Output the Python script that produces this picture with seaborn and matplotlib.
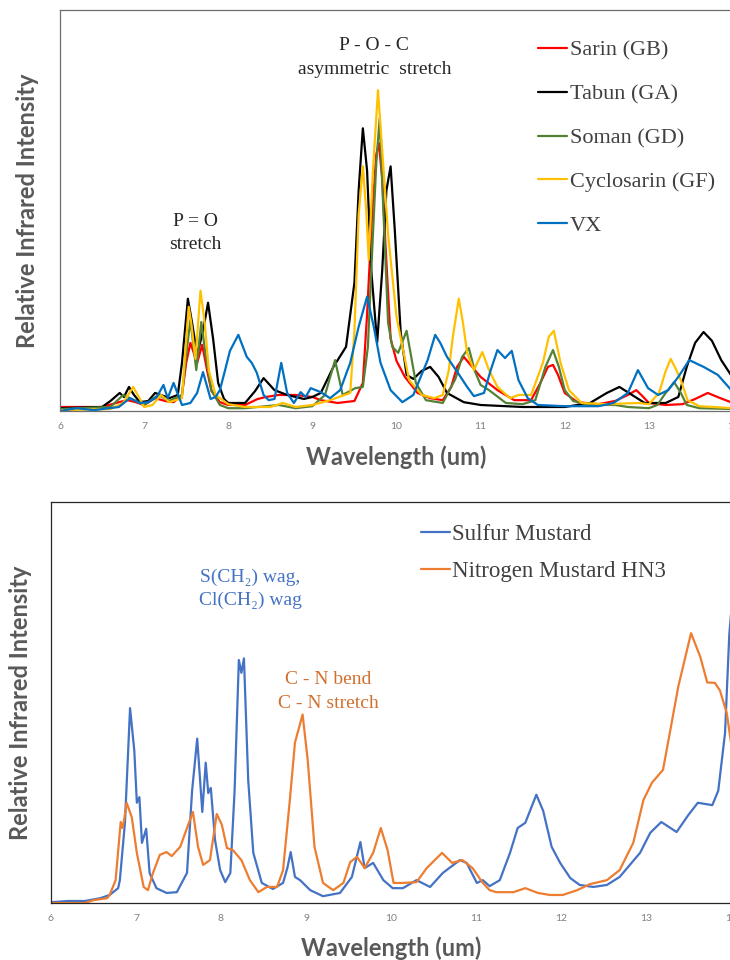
import pandas as pd
import matplotlib.pyplot as plt
import seaborn as sns

# Top panel: nerve agents (wavelength in um, intensity in % of panel height)
sarin_x = [6.0, 6.5, 6.7, 6.8, 6.9, 7.0, 7.13, 7.25, 7.35, 7.45, 7.5, 7.55, 7.63, 7.69, 7.75, 7.8,
           7.9, 8.0, 8.2, 8.35, 8.45, 8.6, 8.8, 9.0, 9.1, 9.3, 9.5, 9.6, 9.65, 9.71, 9.76, 9.79,
           9.83, 9.87, 9.93, 10.0, 10.1, 10.25, 10.4, 10.55, 10.65, 10.72, 10.8, 10.9, 11.0, 11.2,
           11.4, 11.6, 11.71, 11.8, 11.86, 11.92, 12.0, 12.15, 12.4, 12.6, 12.75, 12.85, 12.92,
           13.0, 13.2, 13.4, 13.55, 13.7, 13.85, 14.0]
sarin_y = [1.0, 1.0, 2.2, 2.7, 2.2, 1.5, 3.2, 2.5, 2.2, 4.0, 12, 17, 12, 16.5, 10, 5,
           2.2, 1.5, 1.5, 3.0, 3.5, 4.0, 4.0, 3.5, 2.7, 2.0, 2.5, 7, 24, 49, 64, 66.8,
           58, 41, 18, 12.5, 8.5, 4.5, 3.2, 2.7, 6.0, 11, 13.5, 11, 8.5, 5.2,
           2.7, 2.7, 7.0, 11, 11.5, 9, 4.5, 2.2, 1.7, 2.5, 4.0, 5.2, 3.8,
           2.0, 1.5, 1.7, 3.0, 4.5, 3.2, 2.0]

tabun_x = [6.0, 6.5, 6.6, 6.71, 6.76, 6.82, 6.88, 6.95, 7.05, 7.13, 7.2, 7.3, 7.4, 7.45, 7.52,
           7.57, 7.63, 7.7, 7.76, 7.82, 7.88, 7.95, 8.0, 8.2, 8.32, 8.42, 8.55, 8.7, 8.9, 9.0,
           9.1, 9.25, 9.4, 9.5, 9.55, 9.6, 9.65, 9.7, 9.77, 9.83, 9.88, 9.93, 9.98, 10.05,
           10.12, 10.2, 10.3, 10.4, 10.5, 10.6, 10.8, 11.0, 11.5, 12.0, 12.3, 12.5, 12.65,
           12.8, 12.95, 13.2, 13.35, 13.45, 13.55, 13.65, 13.75, 13.86, 14.0]
tabun_y = [0.7, 1.0, 2.5, 4.5, 3.5, 6.0, 4.0, 2.2, 2.5, 4.5, 4.0, 3.2, 4.0, 12, 28,
           22, 14, 20, 27, 18, 7, 3, 2, 2, 5, 8.2, 5.2, 4.0, 3.0, 3.5,
           4.5, 11, 16, 32, 55, 70.5, 60, 35, 17, 35, 55, 61, 45, 19.5,
           9, 8.0, 10, 11, 8.5, 4.5, 2.2, 1.5, 1.0, 1.0, 2, 4.5, 6.0,
           4.0, 2.0, 2.0, 3.5, 11, 17, 19.7, 17.5, 12.7, 8.2]

soman_x = [6.0, 6.6, 6.75, 6.85, 7.0, 7.17, 7.3, 7.45, 7.5, 7.55, 7.62, 7.68, 7.73, 7.8, 7.9,
           8.0, 8.2, 8.6, 8.8, 9.0, 9.15, 9.27, 9.36, 9.51, 9.6, 9.66, 9.7, 9.76, 9.8, 9.84,
           9.9, 9.95, 10.02, 10.12, 10.23, 10.35, 10.55, 10.7, 10.78, 10.86, 10.93, 11.0,
           11.1, 11.3, 11.5, 11.65, 11.77, 11.86, 11.93, 12.0, 12.1, 12.3, 12.6, 12.75,
           13.0, 13.1, 13.2, 13.3, 13.38, 13.45, 13.6, 14.0]
soman_y = [0.5, 1.0, 4.0, 3.0, 1.5, 4.0, 2.5, 4.0, 14, 22.7, 10.2, 22.2, 14, 5.2, 1.5,
           0.7, 0.7, 1.5, 0.7, 1.2, 4, 12.7, 4.0, 5.7, 6, 16, 35, 62, 73, 52,
           22, 16, 14.5, 20, 7, 2.7, 2.0, 8, 13.5, 15.7, 10, 6.5,
           5.2, 2.0, 1.7, 2.7, 11, 15.2, 11, 5.2, 2.5, 1.5, 1.5, 1.0,
           0.7, 1.5, 4.5, 7.2, 4.5, 1.5, 0.7, 0.5]

cyclosarin_x = [6.0, 6.6, 6.75, 6.87, 6.95, 7.0, 7.1, 7.2, 7.3, 7.45, 7.49, 7.53, 7.56, 7.61,
                7.67, 7.72, 7.77, 7.85, 8.0, 8.2, 8.5, 8.65, 8.8, 9.0, 9.21, 9.45, 9.5, 9.55,
                9.6, 9.64, 9.67, 9.72, 9.78, 9.83, 9.9, 10.0, 10.15, 10.3, 10.45, 10.55, 10.62,
                10.67, 10.74, 10.79, 10.84, 10.92, 11.02, 11.1, 11.2, 11.35, 11.45, 11.6,
                11.74, 11.81, 11.87, 11.95, 12.05, 12.2, 12.5, 12.87, 13.0, 13.12, 13.2,
                13.26, 13.32, 13.38, 13.46, 13.6, 14.0]
cyclosarin_y = [0.2, 0.5, 2.0, 6.0, 3.0, 1.0, 1.5, 4.0, 2.2, 3.2, 15, 26, 22, 13,
                30, 22, 10, 4.0, 1.7, 1.0, 1.0, 2.0, 1.0, 1.5, 2.7, 4.5, 20, 49,
                61, 50, 37.7, 60, 80, 65, 44, 23.5, 7.7, 4.0, 3.2, 4.0, 10,
                18.5, 28, 22, 14.5, 10.2, 14.7, 10.2, 6.0, 3.2, 4.0, 4.0,
                12, 18.5, 20, 12, 5.2, 2.0, 1.7, 2.0, 1.7, 4.5, 10,
                13, 10.5, 7.7, 2.7, 1.2, 0.7]

vx_x = [6.0, 6.2, 6.4, 6.7, 6.83, 6.95, 7.05, 7.15, 7.23, 7.28, 7.35, 7.45, 7.55, 7.63, 7.7,
        7.79, 7.85, 7.9, 7.96, 8.02, 8.12, 8.22, 8.28, 8.34, 8.42, 8.48, 8.55, 8.63, 8.7,
        8.78, 8.86, 8.92, 8.98, 9.1, 9.21, 9.33, 9.45, 9.55, 9.65, 9.73, 9.81, 9.93, 10.07,
        10.2, 10.37, 10.46, 10.52, 10.6, 10.73, 10.84, 10.92, 11.04, 11.12, 11.2, 11.29,
        11.37, 11.45, 11.56, 11.68, 12.0, 12.4, 12.58, 12.75, 12.87, 12.99, 13.11, 13.23,
        13.35, 13.48, 13.65, 13.82, 13.98]
vx_y = [0.0, 0.7, 0.2, 1.0, 3.2, 2.0, 2.2, 3.5, 6.5, 3.2, 7.0, 1.5, 2.0, 4.5, 9.7,
        3.0, 3.5, 5.2, 10, 15, 19, 13.5, 12, 9.5, 4.0, 2.7, 3.0, 12, 4.5,
        2.0, 4.7, 3.5, 5.7, 4.7, 3.2, 5.2, 12, 21, 28.5, 21, 12, 5.2, 2.2,
        4.0, 12.7, 19, 17, 13.5, 9.5, 6.0, 3.7, 4.5, 10.2, 15.2, 13.2,
        15.0, 7.7, 3.2, 1.5, 1.2, 1.2, 2.0, 4.5, 10.2, 5.7, 4.0, 5.2,
        8.5, 12.7, 11, 9.0, 5.2]

nerve_names = ["Sarin (GB)", "Tabun (GA)", "Soman (GD)", "Cyclosarin (GF)", "VX"]
nerve_colors = ["#FF0000", "#000000", "#548235", "#FFC000", "#0070C0"]

# Bottom panel: blister agents
sulfur_x = [6.0, 6.2, 6.4, 6.58, 6.69, 6.79, 6.81, 6.87, 6.93, 6.98, 7.01, 7.04, 7.07, 7.12,
            7.16, 7.24, 7.36, 7.48, 7.6, 7.66, 7.72, 7.78, 7.82, 7.85, 7.88, 7.93, 7.99, 8.05,
            8.11, 8.16, 8.21, 8.24, 8.27, 8.32, 8.38, 8.48, 8.61, 8.73, 8.78, 8.82, 8.87, 8.93,
            9.05, 9.2, 9.4, 9.54, 9.64, 9.69, 9.79, 9.91, 10.02, 10.14, 10.3, 10.46, 10.61,
            10.81, 10.89, 11.01, 11.08, 11.16, 11.28, 11.4, 11.49, 11.58, 11.71, 11.79, 11.89,
            11.99, 12.11, 12.22, 12.38, 12.54, 12.69, 12.93, 13.05, 13.18, 13.36, 13.5, 13.61,
            13.78, 13.85, 13.93, 13.98, 14.0]
sulfur_y = [0.2, 0.5, 0.5, 1.2, 2.0, 3.7, 5.7, 20, 48.6, 38, 25, 26.4, 15, 18.5,
            7.5, 3.7, 2.5, 2.7, 7.5, 28, 41, 22.7, 35, 27.4, 28.7, 15.7, 8.2, 5.2,
            7.5, 28, 60.6, 57.4, 61, 30.7, 12.5, 5.0, 3.5, 5.0, 8.7, 12.7, 6.5, 5.7,
            3.2, 1.7, 2.5, 6.5, 15.2, 8.7, 10.0, 5.7, 3.7, 3.7, 5.7, 4.0, 7.5,
            10.7, 10.0, 5.0, 5.7, 4.2, 5.7, 12.5, 18.7, 20.0, 27.0, 23.0, 14.0,
            10.0, 6.2, 4.5, 4.0, 4.5, 6.5, 12.5, 17.5, 20.2, 17.7, 22.0, 25.0,
            24.4, 28.0, 42.4, 67.0, 72.0]

nitrogen_x = [6.0, 6.4, 6.5, 6.66, 6.69, 6.76, 6.82, 6.84, 6.86, 6.89, 6.95, 7.01, 7.09, 7.14,
              7.2, 7.28, 7.36, 7.42, 7.52, 7.6, 7.67, 7.73, 7.79, 7.87, 7.95, 8.01, 8.07, 8.14,
              8.24, 8.34, 8.44, 8.54, 8.66, 8.73, 8.81, 8.87, 8.96, 9.02, 9.1, 9.2, 9.32, 9.44,
              9.52, 9.6, 9.69, 9.79, 9.88, 9.96, 10.03, 10.14, 10.3, 10.42, 10.6, 10.72, 10.84,
              10.96, 11.08, 11.16, 11.24, 11.44, 11.58, 11.73, 11.87, 12.02, 12.19, 12.34,
              12.54, 12.69, 12.85, 12.97, 13.07, 13.2, 13.28, 13.38, 13.53, 13.64, 13.72,
              13.81, 13.87, 13.95, 14.0]
nitrogen_y = [0.0, 0.0, 0.7, 1.2, 2.0, 5.7, 20.2, 18.7, 20.7, 25.0, 21.4, 12.5, 4.0, 3.2,
              7.5, 12.0, 12.7, 11.7, 14.0, 18.7, 22.7, 14.0, 9.5, 10.7, 22.2, 19.5, 13.7, 13.2,
              10.7, 5.7, 2.7, 4.0, 4.0, 8.2, 25.7, 40, 47.0, 35.7, 14.0, 5.0, 3.2, 5.0,
              10.2, 11.5, 8.7, 12.5, 18.7, 13.2, 5.0, 5.0, 5.2, 8.7, 12.5, 10.0, 10.7,
              8.7, 5.0, 3.2, 2.7, 2.7, 3.7, 2.5, 2.0, 2.0, 3.2, 4.7,
              5.7, 8.2, 15.0, 25.7, 30.0, 33.2, 42.4, 54.0, 67.3, 61.3, 55.0,
              54.9, 53.0, 47.4, 40.0]

mustard_names = ["Sulfur Mustard", "Nitrogen Mustard HN3"]
mustard_colors = ["#4472C4", "#ED7D31"]


def long_form(series):
    frames = []
    for name, xs, ys in series:
        frames.append(pd.DataFrame({"Wavelength": xs, "Intensity": ys, "Agent": name}))
    return pd.concat(frames, ignore_index=True)


nerve_df = long_form(zip(nerve_names,
                         [sarin_x, tabun_x, soman_x, cyclosarin_x, vx_x],
                         [sarin_y, tabun_y, soman_y, cyclosarin_y, vx_y]))
mustard_df = long_form(zip(mustard_names, [sulfur_x, nitrogen_x], [sulfur_y, nitrogen_y]))

sns.set_style("white")
plt.rcParams["font.family"] = ["Liberation Serif", "DejaVu Serif"]

W, H = 730, 960
fig = plt.figure(figsize=(W / 100, H / 100), dpi=100)


def px_axes(left, top, right, bottom):
    return fig.add_axes([left / W, 1 - bottom / H, (right - left) / W, (bottom - top) / H])


def px_text(x, y, s, **kw):
    fig.text(x / W, 1 - y / H, s, ha="center", va="center", **kw)


label_font = dict(family="Lato", fontweight="bold", fontsize=17, color="#595959")


def style_axes(ax, frame_color, ylab_x, xlab_y):
    ax.set_xlim(6, 14)
    ax.set_ylim(0, 100)
    ax.set_xticks(range(6, 15))
    ax.set_yticks([])
    ax.tick_params(axis="x", direction="in", length=4, width=0.8, color=frame_color,
                   labelsize=7.5, labelcolor="#808080", pad=8)
    for lab in ax.get_xticklabels():
        lab.set_family("Lato")
    for side in ["left", "bottom", "top"]:
        ax.spines[side].set_color(frame_color)
        ax.spines[side].set_linewidth(0.9)
    ax.spines["right"].set_visible(False)
    ax.set_xlabel("Wavelength (um)", va="center", **label_font)
    ax.set_ylabel("Relative Infrared Intensity", va="center", **label_font)
    ax.xaxis.set_label_coords(0.5, xlab_y)
    ax.yaxis.set_label_coords(ylab_x, 0.5)


# ---- top panel ----
ax1 = px_axes(60, 10, 733, 411)
sns.lineplot(data=nerve_df, x="Wavelength", y="Intensity", hue="Agent", hue_order=nerve_names,
             palette=nerve_colors, estimator=None, sort=False, lw=1.6, legend=False, ax=ax1)
style_axes(ax1, "#6e6e6e", (28 - 60) / 673, (411 - 457) / 401)
ax1.legend(ax1.lines, nerve_names, loc="upper left", bbox_to_anchor=((538 - 60) / 673, 1 - 30 / 401),
           frameon=False, fontsize=16, handlelength=1.3, handletextpad=0.12, labelspacing=1.05,
           borderpad=0, borderaxespad=0, labelcolor="#404040")

px_text(374, 45, "P - O - C", fontsize=14, color="#262626")
px_text(375, 69, "asymmetric  stretch", fontsize=14, color="#262626")
px_text(195, 222, "P = O", fontsize=14, color="#262626")
px_text(195, 245, "stretch", fontsize=14, color="#262626")

# ---- bottom panel ----
ax2 = px_axes(51, 502, 731, 903)
sns.lineplot(data=mustard_df, x="Wavelength", y="Intensity", hue="Agent", hue_order=mustard_names,
             palette=mustard_colors, estimator=None, sort=False, lw=1.6, legend=False, ax=ax2)
style_axes(ax2, "#262626", (21 - 51) / 680, (903 - 948) / 401)
ax2.legend(ax2.lines, mustard_names, loc="upper left", bbox_to_anchor=((421 - 51) / 680, 1 - 22 / 401),
           frameon=False, fontsize=16.5, handlelength=1.25, handletextpad=0.1, labelspacing=0.68,
           borderpad=0, borderaxespad=0, labelcolor="#404040")

px_text(250, 577, "S(CH\u2082) wag,", fontsize=14, color="#4472C4")
px_text(250, 600, "Cl(CH\u2082) wag", fontsize=14, color="#4472C4")
px_text(328, 679, "C - N bend", fontsize=14, color="#D0702F")
px_text(328, 703, "C - N stretch", fontsize=14, color="#D0702F")

fig.savefig("out.png", dpi=100)
